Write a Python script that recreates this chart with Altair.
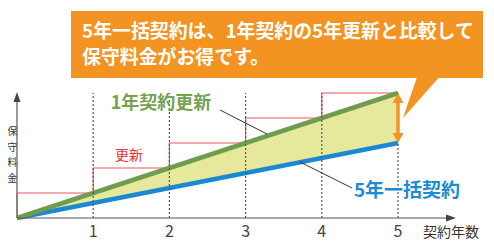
import altair as alt
import pandas as pd

# ---- data ----
years = [0, 1, 2, 3, 4, 5]
one_year_renewal = [0, 1, 2, 3, 4, 5]      # cumulative fee, 1-year contract renewed
five_year_lump = [0, 0.6, 1.2, 1.8, 2.4, 3.0]  # cumulative fee, 5-year lump-sum contract
tick_years = [1, 2, 3, 4, 5]
tick_labels = ["1", "2", "3", "4", "5"]

callout_lines = ["5年一括契約は、1年契約の5年更新と比較して", "保守料金がお得です。"]
label_green = "1年契約更新"
label_blue = "5年一括契約"
label_red = "更新"
x_title = "契約年数"
y_title_chars = ["保", "守", "料", "金"]

df = pd.DataFrame({"year": years, "green": one_year_renewal, "blue": five_year_lump})
ticks = pd.DataFrame({"year": tick_years, "label": tick_labels})
one = pd.DataFrame({"k": [0]})  # single row for annotation marks

FONT = "Noto Sans CJK JP"
GREEN = "#6f9c4e"
BLUE = "#1b88d3"
RED = "#ee5560"
ORANGE = "#f39422"
FILL = "#e6e89b"

xs = alt.Scale(domain=[0, 5], range=[9, 390])
ys = alt.Scale(domain=[0, 5], range=[210, 85])
X = lambda f: alt.X(f, type="quantitative", scale=xs, axis=None)
Y = lambda f: alt.Y(f, type="quantitative", scale=ys, axis=None)

base = alt.Chart(df)

area = base.mark_area(color=FILL, opacity=1).encode(x=X("year"), y=Y("green"), y2="blue")
steps = base.mark_line(interpolate="step-before", color=RED, strokeWidth=1.2).encode(
    x=X("year"), y=Y("green"))
blue = base.mark_line(color=BLUE, strokeWidth=4.5).encode(x=X("year"), y=Y("blue"))
green = base.mark_line(color=GREEN, strokeWidth=4.5).encode(x=X("year"), y=Y("green"))

dots = alt.Chart(ticks).mark_rule(color="#555", strokeDash=[2, 2], strokeWidth=1.2).encode(
    x=X("year"), y=alt.Y(datum=0, scale=ys, axis=None), y2=alt.Y2(datum=5))

tick_text = alt.Chart(ticks).mark_text(font=FONT, fontSize=16, color="#444",
                                        baseline="middle").encode(
    x=X("year"), y=alt.value(224), text="label:N")


def shape(path, color):
    return alt.Chart(one).mark_point(shape=path, size=4, filled=True, fill=color,
                                     opacity=1, strokeWidth=0).encode(
        x=alt.value(0), y=alt.value(0))


def rule(x1, y1, x2, y2, color, w):
    return alt.Chart(one).mark_rule(color=color, strokeWidth=w).encode(
        x=alt.value(x1), y=alt.value(y1), x2=alt.value(x2), y2=alt.value(y2))


def text(s, x, y, size, color, bold=False, align="center"):
    return alt.Chart(one).mark_text(text=s, font=FONT, fontSize=size, color=color,
                                    fontWeight="bold" if bold else "normal",
                                    align=align, baseline="middle").encode(
        x=alt.value(x), y=alt.value(y))


# axes with arrows
y_axis = rule(9, 210, 9, 92, "#777", 1.5)
y_arrow = shape("M9,84 L5.5,94 L12.5,94 Z", "#444")
x_axis = rule(9, 210, 440, 210, "#555", 1.2)
x_arrow = shape("M448,210 L438,206.5 L438,213.5 Z", "#444")

# orange double arrow
o_shaft = rule(390, 92, 390, 128, ORANGE, 3.5)
o_top = shape("M390,85 L384.5,95 L395.5,95 Z", ORANGE)
o_bot = shape("M390,135 L384.5,125 L395.5,125 Z", ORANGE)

# callout
box = alt.Chart(one).mark_rect(color=ORANGE, opacity=1).encode(
    x=alt.value(63), x2=alt.value(475), y=alt.value(3), y2=alt.value(70))
pointer = shape("M410,66 L434,66 L395,110 Z", ORANGE)
c1 = text(callout_lines[0], 74, 24, 18.9, "white", bold=True, align="left")
c2 = text(callout_lines[1], 74, 50, 18.9, "white", bold=True, align="left")

# leader lines
lead1 = rule(212, 102, 259, 126, "#333", 1)
lead2 = rule(292, 154, 344, 180, "#333", 1)

t_green = text(label_green, 153, 96, 18, "#74a152", bold=True)
t_blue = text(label_blue, 399, 183, 19, "#1d8bd4", bold=True)
t_red = text(label_red, 121, 148, 14, "#e8333d")
t_x = text(x_title, 443, 225, 14, "#333")
t_y = [text(ch, 4.2, 124 + 15.5 * i, 10, "#333") for i, ch in enumerate(y_title_chars)]

chart = alt.layer(
    area, steps, blue, green, dots, y_axis, y_arrow, x_axis, x_arrow,
    o_shaft, o_top, o_bot, lead1, lead2, box, pointer, c1, c2,
    tick_text, t_green, t_blue, t_red, t_x, *t_y,
).properties(
    width=478, height=233, autosize=alt.AutoSizeParams(type="none"), padding=0,
    background="white"
).configure_view(stroke=None)

chart.save("out.html", embed_options={"renderer": "svg", "actions": False})
